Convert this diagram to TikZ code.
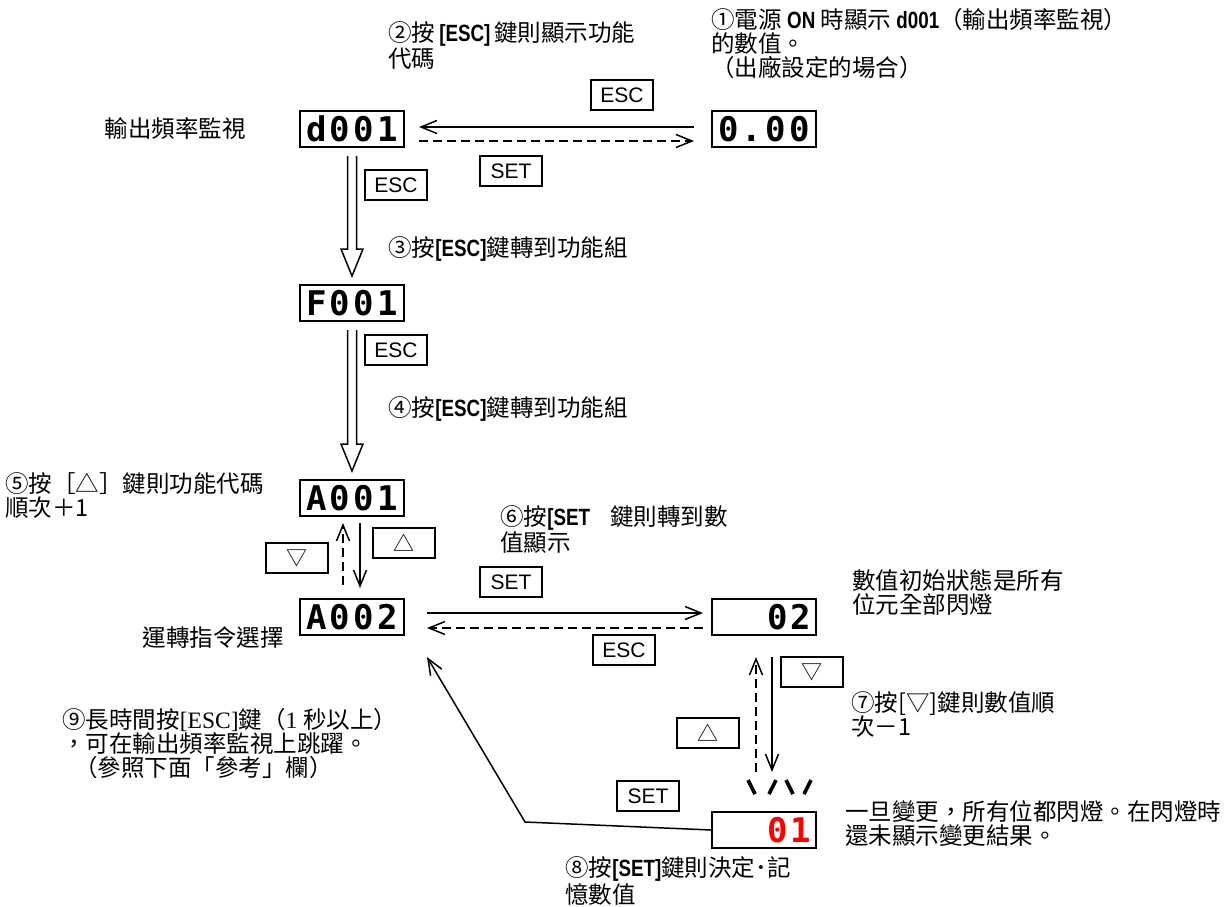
\documentclass[tikz,border=0pt]{standalone}
\usepackage{fontspec}
\setmainfont{Noto Sans CJK TC}
\newfontfamily\segfont{DejaVu Sans Mono}[LetterSpace=9]
\newfontfamily\keyfont{Liberation Sans}
\newfontfamily\condfont{Liberation Sans}[FakeStretch=0.8]
\newfontfamily\mincho{Liberation Serif}
\usetikzlibrary{positioning,arrows.meta}
\newcommand{\kb}[1]{{\condfont\bfseries #1}}
\newcommand{\hollowdown}[2]{%
  \draw[line width=.75pt] ([xshift=-2.25pt,yshift=-4pt]#1.south)
    -- ([xshift=-2.25pt,yshift=17.5pt]#2.north)
    -- ([xshift=-5.5pt,yshift=17.5pt]#2.north)
    -- ([yshift=4pt]#2.north)
    -- ([xshift=5.5pt,yshift=17.5pt]#2.north)
    -- ([xshift=2.25pt,yshift=17.5pt]#2.north)
    -- ([xshift=2.25pt,yshift=-4pt]#1.south);}
\tikzset{disp/.style={draw,line width=1pt,minimum width=52pt,minimum height=18pt,inner sep=0pt,font=\segfont\bfseries\fontsize{17}{17}\selectfont},
  key/.style={draw,line width=.75pt,minimum width=31pt,minimum height=15pt,inner sep=0pt,font=\keyfont\fontsize{10.5}{10.5}\selectfont},
  note/.style={anchor=north west,inner sep=0pt,align=left,font=\fontsize{11.75}{12}\selectfont},
  barb/.style={line width=.75pt,-{Straight Barb[length=8pt,width=6.5pt]}},
  dashline/.style={dash pattern=on 4.5pt off 2.5pt},}

\begin{document}
\begin{tikzpicture}[x=0.5pt,y=-0.5pt]
    \useasboundingbox (0,0) rectangle (1231,906);

    \node[disp] (d001) at (352,129) {d001};
    \node[disp] (v000) [right=153pt of d001] {0.00};
    \node[disp] (f001) [below=68pt of d001] {F001};
    \node[disp] (a001) [below=78.5pt of f001] {A001};
    \node[disp] (a002) [below=40.5pt of a001] {A002};
    \node[disp,text width=47pt,align=right] (v02) [right=153pt of a002] {02};
    \node[disp,text width=47pt,align=right,text=red] (v01) [below=87.5pt of v02] {01};

    \node[key] (esc1) at (622,95) {ESC};
    \node[key] (set1) at (511,171) {SET};
    \node[key] (esc2) at (396,185) {ESC};
    \node[key] (esc3) at (396,350) {ESC};
    \node[key] (dn1) at (297,558) {\rmfamily ▽};
    \node[key] (up1) at (404,543) {\rmfamily △};
    \node[key] (set2) at (511,582) {SET};
    \node[key] (esc4) at (624,650) {ESC};
    \node[key] (dn2) at (812,672) {\rmfamily ▽};
    \node[key] (up2) at (708,733) {\rmfamily △};
    \node[key] (set3) at (648,796) {SET};

    \node[note] (t1) at (711,8) {①電源\ \kb{ON}\ 時顯示\ \kb{d001}（輸出頻率監視）\\的數值。\\（出廠設定的場合）};
    \node[note] (t2) at (388,21) {②按\,\kb{[ESC]}\,鍵則顯示功能\\代碼};
    \node[note] (t3) at (388,236) {③按\kb{[ESC]}鍵轉到功能組};
    \node[note] (t4) at (388,396) {④按\kb{[ESC]}鍵轉到功能組};
    \node[note] (t5) at (5,472) {⑤按［△］鍵則功能代碼\\順次＋1};
    \node[note] (t6) at (500,505) {⑥按\kb{[SET}\hspace{10pt}鍵則轉到數\\值顯示};
    \node[note] (t7) at (851,691) {⑦按[▽]鍵則數值順\\次－1};
    \node[note] (t8) at (565,856) {⑧按\kb{[SET]}鍵則決定･記\\憶數值};
    \node[note] (t9) at (62,708) {⑨長時間按{\mincho [ESC]}鍵（{\mincho 1\ }秒以上）\\，可在輸出頻率監視上跳躍。\\\hspace{6pt}（參照下面「參考」欄）};
    \node[note] (tinit) at (852,569) {數值初始狀態是所有\\位元全部閃燈};
    \node[note] (tchg) at (845,800) {一旦變更，所有位都閃燈。在閃燈時\\還未顯示變更結果。};
    \node[note] (tout) [left=26.5pt of d001] {輸出頻率監視};
    \node[note] (trun) [left=7.5pt of a002,yshift=-10.5pt] {運轉指令選擇};

    \draw[barb,shorten <=8.5pt,shorten >=7pt] ([yshift=1pt]v000.west) -- ([yshift=1pt]d001.east);
    \draw[barb,dashline,shorten <=7pt,shorten >=8.5pt] ([yshift=-6pt]d001.east) -- ([yshift=-6pt]v000.west);
    \hollowdown{d001}{f001}
    \hollowdown{f001}{a001}
    \draw[barb,dashline,shorten <=6.5pt,shorten >=3pt] ([xshift=-4.5pt]a002.north) -- ([xshift=-4.5pt]a001.south);
    \draw[barb,shorten <=3pt,shorten >=5pt] ([xshift=4pt]a001.south) -- ([xshift=4pt]a002.north);
    \draw[barb,shorten <=11pt,shorten >=4pt] ([yshift=2pt]a002.east) -- ([yshift=2pt]v02.west);
    \draw[barb,dashline,shorten <=4pt,shorten >=11pt] ([yshift=-5.5pt]v02.west) -- ([yshift=-5.5pt]a002.east);
    \draw[barb,dashline,shorten <=19.5pt,shorten >=10.5pt] ([xshift=-4pt]v01.north) -- ([xshift=-4pt]v02.south);
    \draw[barb,shorten <=10.5pt,shorten >=19.5pt] ([xshift=4pt]v02.south) -- ([xshift=4pt]v01.north);
    \coordinate (bend) at (525,822);
    \draw[barb] (v01.west) -- (bend) -- ([xshift=11pt,yshift=-10.5pt]a002.south east);

    \foreach \xa/\xb in {748/755,776/769,786/793,811/804}
      \draw[line width=1.8pt] (\xa,780) -- (\xb,794);
\end{tikzpicture}
\end{document}
